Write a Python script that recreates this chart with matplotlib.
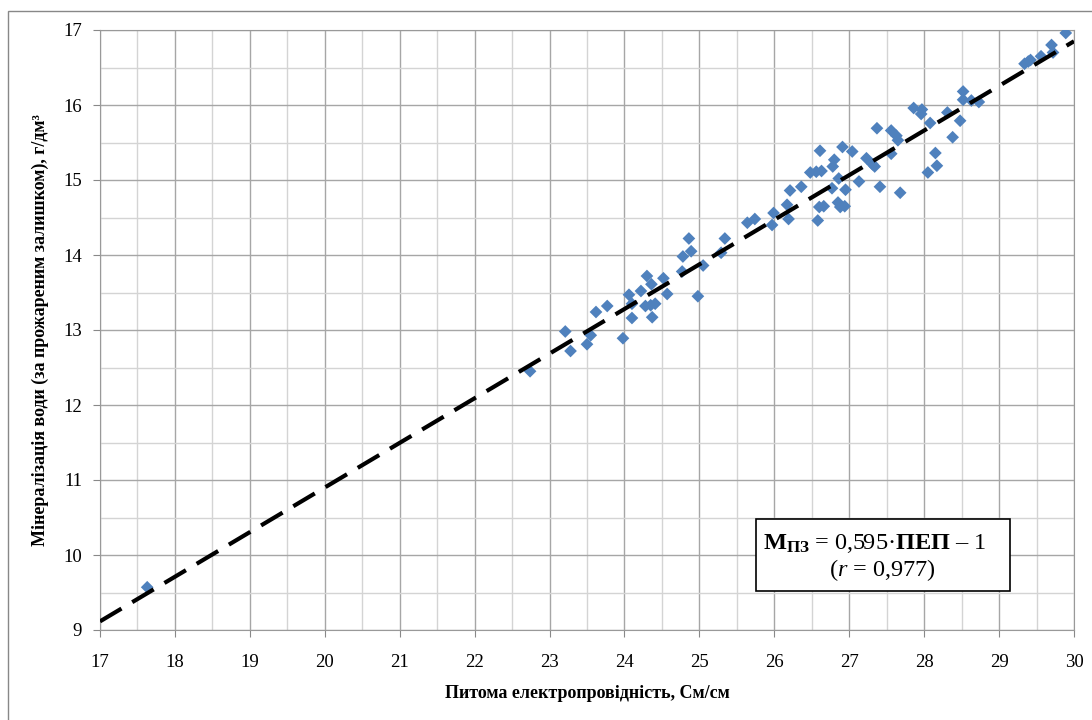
import matplotlib
matplotlib.use('Agg')
import matplotlib.pyplot as plt
from matplotlib.patches import Rectangle
import numpy as np

plt.rcParams['font.family'] = ['Liberation Serif', 'DejaVu Serif']
plt.rcParams['mathtext.fontset'] = 'custom'
plt.rcParams['mathtext.rm'] = 'Liberation Serif'
plt.rcParams['mathtext.bf'] = 'Liberation Serif:bold'
plt.rcParams['mathtext.it'] = 'Liberation Serif:italic'

# питома електропровідність (ПЕП) і мінералізація (МПЗ)
pep = [17.63, 22.74, 23.21, 23.28, 23.50, 23.55, 23.62, 23.77, 23.98, 24.06,
       24.10, 24.10, 24.22, 24.30, 24.28, 24.36, 24.37, 24.41, 24.35, 24.52,
       24.57, 24.77, 24.78, 24.86, 24.89, 24.98, 25.05, 25.29, 25.34, 25.64,
       25.74, 25.97, 25.99, 26.19, 26.17, 26.21, 26.36, 26.48, 26.56, 26.63,
       26.61, 26.58, 26.60, 26.66, 26.78, 26.80, 26.77, 26.86, 26.85, 26.88,
       26.94, 26.95, 26.91, 27.04, 27.13, 27.23, 27.31, 27.34, 27.41, 27.37,
       27.56, 27.56, 27.63, 27.65, 27.68, 27.86, 27.97, 27.96, 28.08, 28.05,
       28.15, 28.17, 28.31, 28.38, 28.48, 28.52, 28.52, 28.63, 28.73, 29.34,
       29.39, 29.42, 29.56, 29.70, 29.72, 29.89]
mpz = [9.57, 12.45, 12.98, 12.72, 12.81, 12.93, 13.24, 13.32, 12.89, 13.47,
       13.35, 13.16, 13.52, 13.72, 13.32, 13.61, 13.17, 13.35, 13.33, 13.69,
       13.48, 13.78, 13.98, 14.22, 14.05, 13.45, 13.86, 14.03, 14.22, 14.43,
       14.48, 14.40, 14.56, 14.48, 14.67, 14.86, 14.91, 15.10, 15.11, 15.12,
       15.39, 14.46, 14.64, 14.65, 15.18, 15.27, 14.89, 15.02, 14.70, 14.64,
       14.65, 14.87, 15.44, 15.38, 14.98, 15.29, 15.21, 15.18, 14.91, 15.69,
       15.66, 15.35, 15.59, 15.53, 14.83, 15.96, 15.94, 15.88, 15.76, 15.10,
       15.36, 15.19, 15.90, 15.57, 15.79, 16.18, 16.07, 16.06, 16.04, 16.55,
       16.58, 16.60, 16.65, 16.80, 16.70, 16.96]

# лінія регресії М = 0,595·ПЕП - 1
a, b = 0.595, -1.0
xline = np.array([17, 30])

fig = plt.figure(figsize=(10.92, 7.2), dpi=100)
ax = fig.add_axes([100/1092, 1-630/720, 974/1092, 600/720])

ax.scatter(pep, mpz, marker='D', s=42, color='#4f81bd', edgecolors='none', zorder=3)
ax.plot(xline, a*xline + b, color='black', lw=3, dashes=(6, 3), zorder=4)

ax.set_xlim(17, 30)
ax.set_ylim(9, 17)
ax.set_xticks(np.arange(17, 31, 1))
ax.set_yticks(np.arange(9, 18, 1))
ax.set_xticks(np.arange(17.5, 30, 1), minor=True)
ax.set_yticks(np.arange(9.5, 17, 1), minor=True)
ax.grid(which='major', color='#a6a6a6', lw=1.0)
ax.grid(which='minor', color='#d4d4d4', lw=1.0)
ax.set_axisbelow(True)
ax.tick_params(which='major', direction='out', length=5, color='#888888', labelsize=13.5, pad=12)
ax.tick_params(axis='y', pad=8)
ax.tick_params(which='minor', length=0)
for s in ax.spines.values():
    s.set_color('#999999')

ax.set_xlabel('Питома електропровідність, См/см', fontsize=13, fontweight='bold', labelpad=10)
ax.set_ylabel('Мінералізація води (за прожареним залишком), г/дм³', fontsize=13,
              fontweight='bold', labelpad=10)

ax.add_patch(Rectangle((25.755, 9.524), 3.396, 0.956, fill=True, facecolor='white',
                       edgecolor='black', lw=1.2, zorder=5))
ax.text(27.34, 10.15, r'$\mathbf{М}_{\mathbf{ПЗ}}$ = 0,595·$\mathbf{ПЕП}$ – 1', fontsize=17.5,
        ha='center', va='center', zorder=6)
ax.text(27.44, 9.8, r'($\mathit{r}$ = 0,977)', fontsize=17.5, ha='center', va='center', zorder=6)

fig.patches.append(Rectangle((8/1092, -0.01), 1.02, 1.01 - 11/720, transform=fig.transFigure,
                             fill=False, edgecolor='#888888', lw=1))

fig.savefig('out.png', dpi=100)
